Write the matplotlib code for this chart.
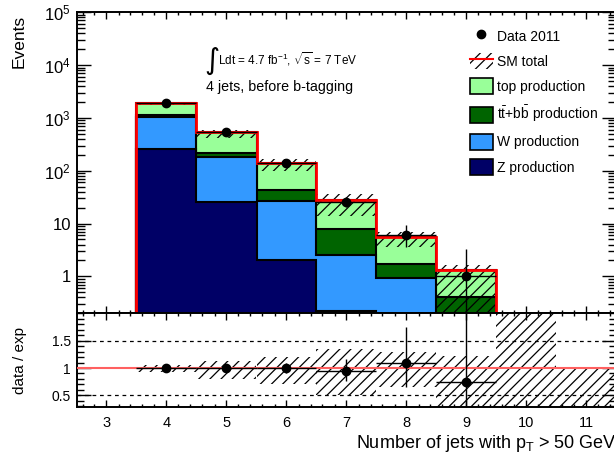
import numpy as np
import matplotlib
matplotlib.use('Agg')
import matplotlib.pyplot as plt
from matplotlib.patches import Patch
from matplotlib.lines import Line2D
from matplotlib.ticker import FixedLocator, MultipleLocator, LogLocator, FuncFormatter, NullFormatter

plt.rcParams['font.family'] = ['Liberation Sans', 'DejaVu Sans']
plt.rcParams['mathtext.fontset'] = 'custom'
plt.rcParams['mathtext.rm'] = 'Liberation Sans'
plt.rcParams['mathtext.it'] = 'Liberation Sans:italic'
plt.rcParams['mathtext.bf'] = 'Liberation Sans:bold'
plt.rcParams['mathtext.sf'] = 'Liberation Sans'
plt.rcParams['hatch.linewidth'] = 0.9

# ---------------- data ----------------
n_jets = [4, 5, 6, 7, 8, 9]
data_counts = [1930, 537, 139, 26, 6, 1]
data_err_up = [45, 24, 12.8, 6.2, 3.6, 2.3]
data_err_dn = [44, 23, 11.8, 5.1, 2.4, 0.83]

z_prod = [256, 26, 2.0, 0.22, 0.0, 0.0]
w_prod = [765, 155, 25, 2.3, 0.93, 0.0]
ttbb_prod = [130, 40, 16.5, 5.4, 0.78, 0.41]
top_prod = [780, 316, 95.5, 19.6, 3.75, 0.92]

unc_bins = [4, 5, 6, 7, 8, 9, 10, 11]
unc_lo = [0.93, 0.79, 0.71, 0.51, 0.65, 0.0, 0.0, 0.0]
unc_hi = [1.05, 1.12, 1.20, 1.34, 1.29, 1.22, 2.5, 1.0]

xtick_vals = [3, 4, 5, 6, 7, 8, 9, 10, 11]
legend_labels = ['Data 2011', 'SM total', 'top production',
                 r't$\bar{\rm t}$+b$\bar{\rm b}$ production',
                 'W production', 'Z production']

c_top, c_ttbb, c_w, c_z = '#99ff99', '#006400', '#3399ff', '#000066'
HATCH = '///'

# ---------------- figure ----------------
W, H = 614, 459
fig = plt.figure(figsize=(W / 100, H / 100), dpi=100)


def px_rect(x0, y0, x1, y1):
    return [x0 / W, 1 - y1 / H, (x1 - x0) / W, (y1 - y0) / H]


ax1 = fig.add_axes(px_rect(76.5, 12.3, 616.5, 313.3))
ax2 = fig.add_axes(px_rect(76.5, 313.3, 616.5, 407.4), sharex=ax1)

x = np.array(n_jets, dtype=float)
edges = np.append(x - 0.5, x[-1] + 0.5)
floor = 1e-3

comps = np.array([z_prod, w_prod, ttbb_prod, top_prod], dtype=float)
cum = np.cumsum(comps, axis=0)
colors = [c_z, c_w, c_ttbb, c_top]
for i in reversed(range(4)):
    ax1.stairs(np.maximum(cum[i], floor), edges, baseline=floor, fill=True,
               facecolor=colors[i], edgecolor='k', linewidth=1.5, zorder=2)

total = cum[-1]
data = np.array(data_counts, dtype=float)
up = np.array(data_err_up)
dn = np.array(data_err_dn)

# uncertainty hatch in top panel
lo = np.array(unc_lo[:len(n_jets)])
hi = np.array(unc_hi[:len(n_jets)])
blo = np.maximum(total * lo, floor)
bhi = total * hi
ax1.bar(x, bhi - blo, bottom=blo, width=1.0, facecolor='none', edgecolor='k',
        hatch=HATCH, linewidth=0, zorder=3)

ax1.stairs(total, edges, baseline=floor, fill=False, color='red', linewidth=2, zorder=4)

ax1.errorbar(x, data, xerr=0.5, yerr=[dn, up], fmt='o', color='k', ms=6,
             elinewidth=1, capsize=0, zorder=10)

ax1.set_yscale('log')
ax1.set_ylim(0.2, 1e5)
ax1.set_xlim(2.5, 11.5)
ax1.yaxis.set_major_locator(FixedLocator([1, 10, 100, 1e3, 1e4, 1e5]))
ax1.yaxis.set_minor_locator(LogLocator(base=10, subs=np.arange(2, 10), numticks=50))


def logfmt(v, pos):
    if abs(v - 1) < 1e-9:
        return '1'
    if abs(v - 10) < 1e-9:
        return '10'
    return r'$10^{%d}$' % int(round(np.log10(v)))


ax1.yaxis.set_major_formatter(FuncFormatter(logfmt))
ax1.yaxis.set_minor_formatter(NullFormatter())
ax1.xaxis.set_major_locator(FixedLocator(xtick_vals))
ax1.xaxis.set_minor_locator(MultipleLocator(0.2))
ax1.tick_params(axis='x', which='both', labelbottom=False)

for ax in (ax1, ax2):
    ax.tick_params(which='both', direction='in', top=True, right=True, width=1)
    ax.tick_params(axis='x', which='major', length=5)
    ax.tick_params(axis='x', which='minor', length=2.5)
    for s in ax.spines.values():
        s.set_linewidth(1.4)

ax1.tick_params(axis='y', which='major', length=10, labelsize=12, pad=4)
ax1.tick_params(axis='y', which='minor', length=5.5)

ax1.set_ylabel('Events', fontsize=12.5, loc='top')
ax1.yaxis.set_label_coords(-0.092, 0.99)

# text
fig.text(204 / W, 1 - 61 / H, '\u222b', fontsize=21, family='DejaVu Sans', va='center', ha='left')
fig.text(218 / W, 1 - 65 / H, r'Ldt = 4.7 fb$^{-1}$, $\sqrt{\rm s}$ = 7 TeV', fontsize=8.5,
         va='baseline', ha='left')
fig.text(206.5 / W, 1 - 91 / H, '4 jets, before b-tagging', fontsize=10.3,
         va='baseline', ha='left')

# legend
handles = [
    Line2D([], [], marker='o', color='k', ls='none', ms=6),
    (Patch(facecolor='none', edgecolor='k', hatch=HATCH, linewidth=0),
     Line2D([], [], color='red', lw=1.5)),
    Patch(facecolor=c_top, edgecolor='k', linewidth=1.2),
    Patch(facecolor=c_ttbb, edgecolor='k', linewidth=1.2),
    Patch(facecolor=c_w, edgecolor='k', linewidth=1.2),
    Patch(facecolor=c_z, edgecolor='k', linewidth=1.2),
]
fig.legend(handles, legend_labels, loc='upper left', bbox_to_anchor=(470 / W, 1 - 28 / H),
           frameon=False, fontsize=10, handlelength=1.65, handleheight=1.37,
           handletextpad=0.3, labelspacing=0.68, borderpad=0, borderaxespad=0)

# ---------------- ratio panel ----------------
ulo = np.array(unc_lo)
uhi = np.array(unc_hi)
ax2.bar(unc_bins, uhi - ulo, bottom=ulo, width=1.0, facecolor='none', edgecolor='k',
        hatch=HATCH, linewidth=0, zorder=2)
ax2.axhline(1.5, color='k', lw=0.9, ls=(0, (3, 3)), zorder=1)
ax2.axhline(0.5, color='k', lw=0.9, ls=(0, (3, 3)), zorder=1)
ax2.axhline(1.0, color='#ff6060', lw=1.5, zorder=3)

ratio = data / total
ax2.errorbar(x, ratio, xerr=0.5, yerr=[dn / total, up / total], fmt='o', color='k', ms=6,
             elinewidth=1, capsize=0, zorder=10)

ax2.set_ylim(0.28, 2.0)
ax2.yaxis.set_major_locator(FixedLocator([0.5, 1.0, 1.5]))
ax2.yaxis.set_major_formatter(FuncFormatter(lambda v, p: '%g' % v))
ax2.yaxis.set_minor_locator(MultipleLocator(0.1))
ax2.tick_params(axis='y', which='major', length=10, labelsize=10, pad=4)
ax2.tick_params(axis='y', which='minor', length=5)
ax2.tick_params(axis='x', which='major', labelsize=10.5, pad=6)
ax2.xaxis.set_major_formatter(FuncFormatter(lambda v, p: '%d' % v))

ax2.set_ylabel('data / exp', fontsize=11)
ax2.yaxis.set_label_coords(-0.092, 0.5)
ax2.set_xlabel(r'Number of jets with p$_{\rm T}$ > 50 GeV', fontsize=13, loc='right')
ax2.xaxis.set_label_coords(1.0, -0.27)

fig.savefig('out.png', dpi=100)
